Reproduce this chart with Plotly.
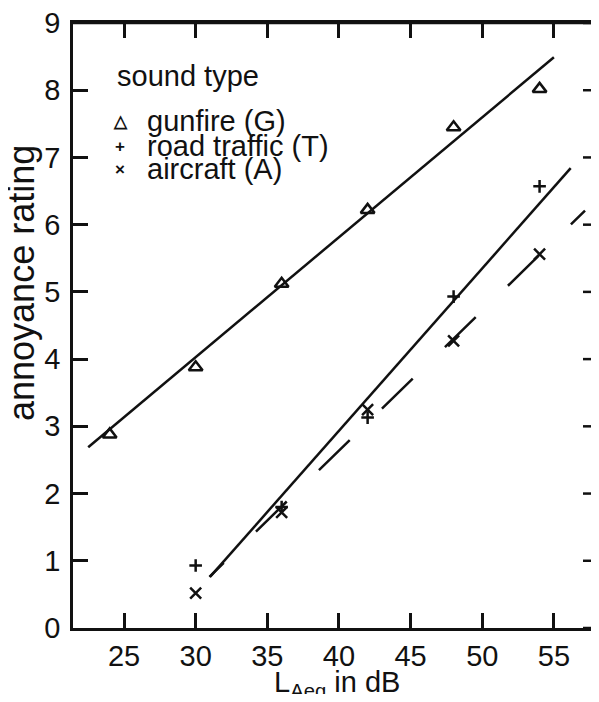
import plotly.graph_objects as go

# ---- data ----
levels_G = [24, 30, 36, 42, 48, 54]
gunfire = [2.88, 3.88, 5.12, 6.22, 7.45, 8.02]

levels_TA = [30, 36, 42, 48, 54]
traffic = [0.93, 1.80, 3.13, 4.93, 6.57]
aircraft = [0.52, 1.72, 3.25, 4.27, 5.56]

# fitted regression lines (end points)
fit_G_x = [22.5, 55.0]
fit_G_y = [2.69, 8.49]
fit_T_x = [31.0, 56.17]
fit_T_y = [0.76, 6.84]
fit_A_x = [30.96, 57.17]
fit_A_y = [0.76, 6.21]

x_ticks = [25, 30, 35, 40, 45, 50, 55]
y_ticks = [0, 1, 2, 3, 4, 5, 6, 7, 8, 9]

legend_title = "sound type"
legend_labels = ["gunfire (G)", "road traffic (T)", "aircraft (A)"]
legend_symbols = ["\u25b3", "+", "\u00d7"]

# the page body adds an 8px margin on every side; keep the figure inside the window
OFF = 8
W, H = 599 - 2 * OFF, 702 - 2 * OFF
ML, MR, MT = 73 - OFF, 0, 23 - OFF
MB = H - (628 - OFF)
PW = W - ML - MR
PH = H - MT - MB
FONT = "Liberation Sans, Arial, sans-serif"
INK = "#111111"
LW = 2.5
TL = 15

def px(xp):
    return (xp - OFF - ML) / PW

def py(yp):
    return (H - MB - (yp - OFF)) / PH

fig = go.Figure()

fig.add_trace(go.Scatter(x=fit_G_x, y=fit_G_y, mode="lines",
                         line=dict(color=INK, width=LW), showlegend=False))
fig.add_trace(go.Scatter(x=fit_T_x, y=fit_T_y, mode="lines",
                         line=dict(color=INK, width=LW), showlegend=False))
fig.add_trace(go.Scatter(x=fit_A_x, y=fit_A_y, mode="lines",
                         line=dict(color=INK, width=LW,
                                   dash="20px,45px,43px,45px,43px,45px,43px,45px,43px,45px,43px,45px,30px"),
                         showlegend=False))

fig.add_trace(go.Scatter(x=levels_G, y=gunfire, mode="markers",
                         marker=dict(symbol="triangle-up-open", size=12, color=INK,
                                     line=dict(width=LW, color=INK)),
                         showlegend=False))
fig.add_trace(go.Scatter(x=levels_TA, y=traffic, mode="markers",
                         marker=dict(symbol="cross-thin", size=9, color=INK,
                                     line=dict(width=LW, color=INK)),
                         showlegend=False))
fig.add_trace(go.Scatter(x=levels_TA, y=aircraft, mode="markers",
                         marker=dict(symbol="x-thin", size=11, color=INK,
                                     line=dict(width=LW, color=INK)),
                         showlegend=False))

# top frame line and short ticks on the right side
fig.add_shape(type="line", xref="paper", yref="paper", x0=0, x1=1, y0=1, y1=1,
              line=dict(color=INK, width=LW))
for v in y_ticks:
    fig.add_shape(type="line", xref="paper", yref="y", x0=1, x1=1 - 8 / PW,
                  y0=v, y1=v, line=dict(color=INK, width=LW))

# legend as text
fig.add_annotation(x=px(115), y=py(76), xref="paper", yref="paper", text=legend_title,
                   showarrow=False, xanchor="left", yanchor="middle",
                   font=dict(family=FONT, size=29, color=INK))
ys = [121, 146, 169]
for sym, lab, yy in zip(legend_symbols, legend_labels, ys):
    fig.add_annotation(x=px(120), y=py(yy), xref="paper", yref="paper",
                       text="<b>" + sym + "</b>",
                       showarrow=False, xanchor="center", yanchor="middle",
                       font=dict(family=FONT, size=17, color=INK))
    fig.add_annotation(x=px(145), y=py(yy), xref="paper", yref="paper", text=lab,
                       showarrow=False, xanchor="left", yanchor="middle",
                       font=dict(family=FONT, size=29, color=INK))

# axis titles
fig.add_annotation(x=px(337), y=py(684), xref="paper", yref="paper",
                   text="L<sub>Aeq</sub> in dB", showarrow=False,
                   xanchor="center", yanchor="middle",
                   font=dict(family=FONT, size=29, color=INK))
fig.add_annotation(x=px(21), y=py(283), xref="paper", yref="paper",
                   text="annoyance rating", showarrow=False, textangle=-90,
                   xanchor="center", yanchor="middle",
                   font=dict(family=FONT, size=36, color=INK))

fig.update_xaxes(range=[21.44, 21.44 + PW / 14.33], tickvals=x_ticks,
                 ticks="inside", ticklen=TL, tickwidth=LW, tickcolor=INK,
                 showline=True, linewidth=LW, linecolor=INK, mirror="ticks",
                 showgrid=False, zeroline=False,
                 ticklabeloverflow="allow",
                 tickfont=dict(family=FONT, size=29, color=INK))
fig.update_yaxes(range=[0, 9], tickvals=y_ticks,
                 ticks="inside", ticklen=TL, tickwidth=LW, tickcolor=INK,
                 showline=True, linewidth=LW, linecolor=INK, mirror=False,
                 showgrid=False, zeroline=False,
                 ticklabelstandoff=4, ticklabeloverflow="allow",
                 tickfont=dict(family=FONT, size=29, color=INK))

fig.update_layout(width=W, height=H, margin=dict(l=ML, r=MR, t=MT, b=MB),
                  paper_bgcolor="white", plot_bgcolor="white")

fig.write_html("out.html")
